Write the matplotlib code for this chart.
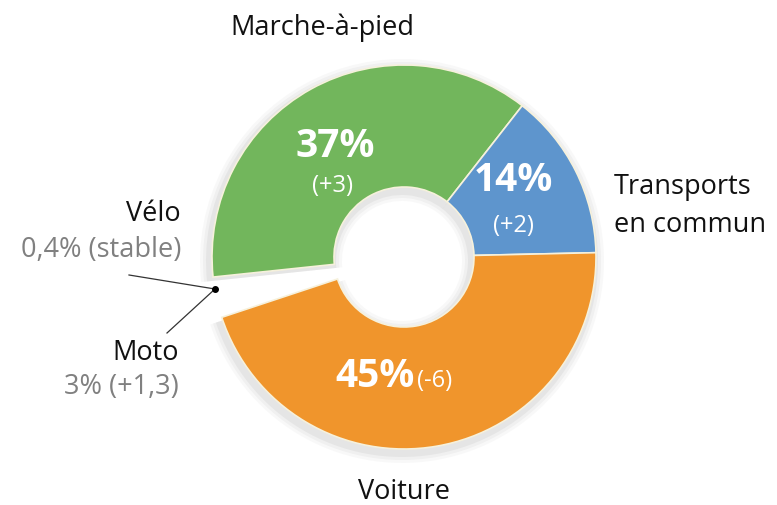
import numpy as np
import matplotlib
matplotlib.use("Agg")
import matplotlib.pyplot as plt

# parts modales (en %) et evolution
modes = ["Marche-à-pied", "Transports en commun", "Voiture", "Moto", "Vélo"]
shares = [37, 14, 45, 3, 0.4]
changes = ["(+3)", "(+2)", "(-6)", "(+1,3)", "(stable)"]
colors = ["#72b65c", "#5e95cd", "#f0952c", "none", "none"]

plt.rcParams['font.family'] = ['Open Sans', 'DejaVu Sans']

W, H = 777, 505
fig = plt.figure(figsize=(W / 100, H / 100), dpi=100)
ax = fig.add_axes([0, 0, 1, 1])
ax.set_xlim(0, W)
ax.set_ylim(0, H)
ax.set_aspect('equal')
ax.axis('off')

cx, cy = 404, 248
R, r_in = 192, 70
width = R - r_in

# ombre douce
for k, a in zip([10, 7, 4], [0.05, 0.07, 0.10]):
    ax.pie(shares, radius=R + k, center=(cx - 2, cy - 4), startangle=186,
           counterclock=False, colors=["#888888"] * 3 + ["none"] * 2,
           wedgeprops=dict(width=width + 2 * k, alpha=a, linewidth=0))

wedges, _ = ax.pie(shares, radius=R, center=(cx, cy), startangle=186,
                   counterclock=False, colors=colors,
                   wedgeprops=dict(width=width, edgecolor="#f6f1dc", linewidth=1.2))
for w in wedges[3:]:
    w.set_edgecolor("none")
ax.set_xlim(0, W)
ax.set_ylim(0, H)

# etiquettes dans les secteurs
def mid(w):
    return np.deg2rad((w.theta1 + w.theta2) / 2)

rl = 122
big = dict(color="white", fontsize=28, fontweight="bold", va="center")
small = dict(color="white", fontsize=17, va="center")

a = mid(wedges[0])
x0, y0 = cx + rl * np.cos(a), cy + rl * np.sin(a)
ax.text(x0 - 10, y0 + 4, f"{shares[0]}%", ha="center", **big)
ax.text(x0 - 12, y0 - 36, changes[0], ha="center", **small)

a = mid(wedges[1])
x0, y0 = cx + rl * np.cos(a), cy + rl * np.sin(a)
ax.text(x0, y0 + 22, f"{shares[1]}%", ha="center", **big)
ax.text(x0, y0 - 24, changes[1], ha="center", **small)

a = mid(wedges[2])
x0, y0 = cx + rl * np.cos(a), cy + rl * np.sin(a)
ax.text(x0 - 10, y0 + 1, f"{shares[2]}%", ha="right", **big)
ax.text(x0 - 8, y0 - 4, changes[2], ha="left", **small)

# etiquettes exterieures
lab = dict(fontsize=19.5, va="center", color="#111111")
sub = dict(fontsize=19.5, va="center", color="#808080")
ax.text(322, H - 28, modes[0], ha="center", **lab)
ax.text(614, H - 187, "Transports", ha="left", **lab)
ax.text(614, H - 225, "en commun", ha="left", **lab)
ax.text(404, H - 492, modes[2], ha="center", **lab)

ax.text(181, H - 214, modes[4], ha="right", **lab)
ax.text(181, H - 250, "0,4% " + changes[4], ha="right", **sub)
ax.text(179, H - 353, modes[3], ha="right", **lab)
ax.text(179, H - 387, "3% " + changes[3], ha="right", **sub)

# traits de rappel
dot = (215, H - 289)
ax.plot([129, dot[0]], [H - 275, dot[1]], color="#333333", lw=0.9)
ax.plot([167, dot[0]], [H - 333, dot[1]], color="#333333", lw=0.9)
ax.plot(*dot, "o", color="black", markersize=4)

fig.savefig("out.png", dpi=100)
